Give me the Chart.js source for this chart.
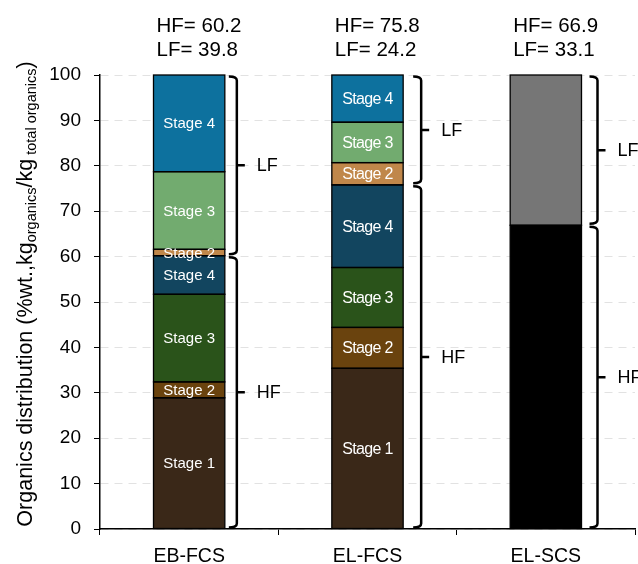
<!DOCTYPE html>
<html lang="en">
<head>
<meta charset="UTF-8">
<title>Organics distribution</title>
<script src="https://cdn.jsdelivr.net/npm/chart.js"></script>
<style>
  html, body { margin: 0; padding: 0; background: #fff; }
  #wrap { width: 638px; height: 564px; }
</style>
</head>
<body>
<div id="wrap"><canvas id="organicsChart" width="638" height="564"></canvas></div>
<script>
// categories and values (%wt.)
const categories = ['EB-FCS', 'EL-FCS', 'EL-SCS'];
const hfStage1 = [28.9, 35.4, null];
const hfStage2 = [3.5, 9.0, null];
const hfStage3 = [19.3, 13.2, null];
const hfStage4 = [8.5, 18.2, null];
const lfStage2 = [1.4, 4.9, null];
const lfStage3 = [17.1, 8.9, null];
const lfStage4 = [21.3, 10.4, null];
const scsHF = [null, null, 66.9];
const scsLF = [null, null, 33.1];
const hfTotal = [60.2, 75.8, 66.9];
const lfTotal = [39.8, 24.2, 33.1];
const yTicks = [0, 10, 20, 30, 40, 50, 60, 70, 80, 90, 100];

const FONT = "'Liberation Sans', Arial, sans-serif";

function seg(label, data, color, showLabel) {
  return {
    label: label,
    data: data,
    backgroundColor: color,
    borderWidth: 0,
    showLabel: showLabel
  };
}

// black outline round every segment, then the white "Stage n" text
const segmentLabels = {
  id: 'segmentLabels',
  afterDatasetsDraw(chart) {
    const ctx = chart.ctx;
    ctx.save();
    ctx.strokeStyle = '#000';
    ctx.lineWidth = 1.3;
    chart.data.datasets.forEach((ds, i) => {
      chart.getDatasetMeta(i).data.forEach((el, j) => {
        if (ds.data[j] == null) return;
        const top = Math.min(el.y, el.base);
        ctx.strokeRect(el.x - el.width / 2, top, el.width, Math.abs(el.base - el.y));
      });
    });
    ctx.fillStyle = '#ffffff';
    ctx.textAlign = 'center';
    ctx.textBaseline = 'middle';
    chart.data.datasets.forEach((ds, i) => {
      if (!ds.showLabel) return;
      chart.getDatasetMeta(i).data.forEach((el, j) => {
        if (ds.data[j] == null) return;
        // the EL-FCS labels are set tighter in the original
        ctx.font = (j === 1 ? '16px ' : '15px ') + FONT;
        ctx.letterSpacing = j === 1 ? '-0.7px' : '0px';
        ctx.fillText(ds.label, el.x, (el.y + el.base) / 2 + 1);
      });
    });
    ctx.restore();
  }
};

// HF / LF brackets, totals above the bars, y title with subscripts
const annotations = {
  id: 'annotations',
  afterDraw(chart) {
    const ctx = chart.ctx;
    const y = chart.scales.y;
    const area = chart.chartArea;
    const meta = chart.getDatasetMeta(0);
    const gaps = [12, 18, 16];
    ctx.save();
    ctx.strokeStyle = '#000';
    ctx.fillStyle = '#000';
    ctx.lineWidth = 2.5;
    ctx.textBaseline = 'middle';
    categories.forEach((c, j) => {
      const el = meta.data[j];
      const right = el.x + el.width / 2;
      const left = el.x - el.width / 2;
      const bx = right + gaps[j];
      const ranges = [[hfTotal[j], 100, 'LF'], [0, hfTotal[j], 'HF']];
      ranges.forEach(([lo, hi, name]) => {
        const yTop = y.getPixelForValue(hi) + 1.5;
        const yBot = y.getPixelForValue(lo) - 1.5;
        const yMid = (yTop + yBot) / 2;
        ctx.beginPath();
        ctx.moveTo(bx - 8, yTop);
        ctx.quadraticCurveTo(bx, yTop, bx, yTop + 4);
        ctx.lineTo(bx, yBot - 4);
        ctx.quadraticCurveTo(bx, yBot, bx - 8, yBot);
        ctx.moveTo(bx, yMid);
        ctx.lineTo(bx + 8, yMid);
        ctx.stroke();
        ctx.font = '18px ' + FONT;
        ctx.textAlign = 'left';
        ctx.fillText(name, bx + 20, yMid + 1);
      });
      ctx.font = '20.5px ' + FONT;
      ctx.textAlign = 'left';
      ctx.fillText('HF= ' + hfTotal[j].toFixed(1), left + 3, area.top - 49);
      ctx.fillText('LF= ' + lfTotal[j].toFixed(1), left + 3, area.top - 25);
    });

    // rotated y title with subscripts
    const parts = [
      ['Organics distribution (%wt.,kg', 21.5, 0],
      ['organics', 14.5, 4],
      ['/kg', 21.5, 0],
      [' total organics', 14.5, 4],
      [')', 21.5, 0]
    ];
    let total = 0;
    parts.forEach(p => { ctx.font = p[1] + 'px ' + FONT; total += ctx.measureText(p[0]).width; });
    ctx.translate(32, 294);
    ctx.rotate(-Math.PI / 2);
    ctx.textAlign = 'left';
    ctx.textBaseline = 'alphabetic';
    let x = -total / 2;
    parts.forEach(p => {
      ctx.font = p[1] + 'px ' + FONT;
      ctx.fillText(p[0], x, p[2]);
      x += ctx.measureText(p[0]).width;
    });
    ctx.restore();
  }
};

const ctx = document.getElementById('organicsChart').getContext('2d');
new Chart(ctx, {
  type: 'bar',
  data: {
    labels: categories,
    datasets: [
      seg('Stage 1', hfStage1, '#3a2818', true),
      seg('Stage 2', hfStage2, '#6a430e', true),
      seg('Stage 3', hfStage3, '#2a531a', true),
      seg('Stage 4', hfStage4, '#12455f', true),
      seg('Stage 2', lfStage2, '#c0874a', true),
      seg('Stage 3', lfStage3, '#72ab6f', true),
      seg('Stage 4', lfStage4, '#0d719e', true),
      seg('HF', scsHF, '#000000', false),
      seg('LF', scsLF, '#767676', false)
    ]
  },
  options: {
    responsive: false,
    animation: false,
    layout: { padding: { left: 40, right: 3, top: 75, bottom: 0 } },
    datasets: { bar: { barPercentage: 0.4, categoryPercentage: 1.0 } },
    plugins: { legend: { display: false }, tooltip: { enabled: false } },
    scales: {
      x: {
        stacked: true,
        afterFit: s => { s.height = 35; },
        grid: { offset: true, drawOnChartArea: false, tickLength: 6, color: '#000', lineWidth: 1 },
        border: { color: '#000', width: 1.5 },
        ticks: { color: '#000', font: { family: FONT, size: 19.5 }, padding: 10 }
      },
      y: {
        stacked: true,
        min: 0,
        max: 100,
        afterBuildTicks: s => { s.ticks = yTicks.map(v => ({ value: v })); },
        afterFit: s => { s.width = 60; },
        grid: { color: '#e2e2e2', tickColor: '#000', tickLength: 6, tickBorderDash: [], lineWidth: 1 },
        border: { color: '#000', width: 1.5, dash: [8, 6] },
        ticks: { color: '#000', font: { family: FONT, size: 19 }, padding: 13 }
      }
    }
  },
  plugins: [segmentLabels, annotations]
});
</script>
</body>
</html>
